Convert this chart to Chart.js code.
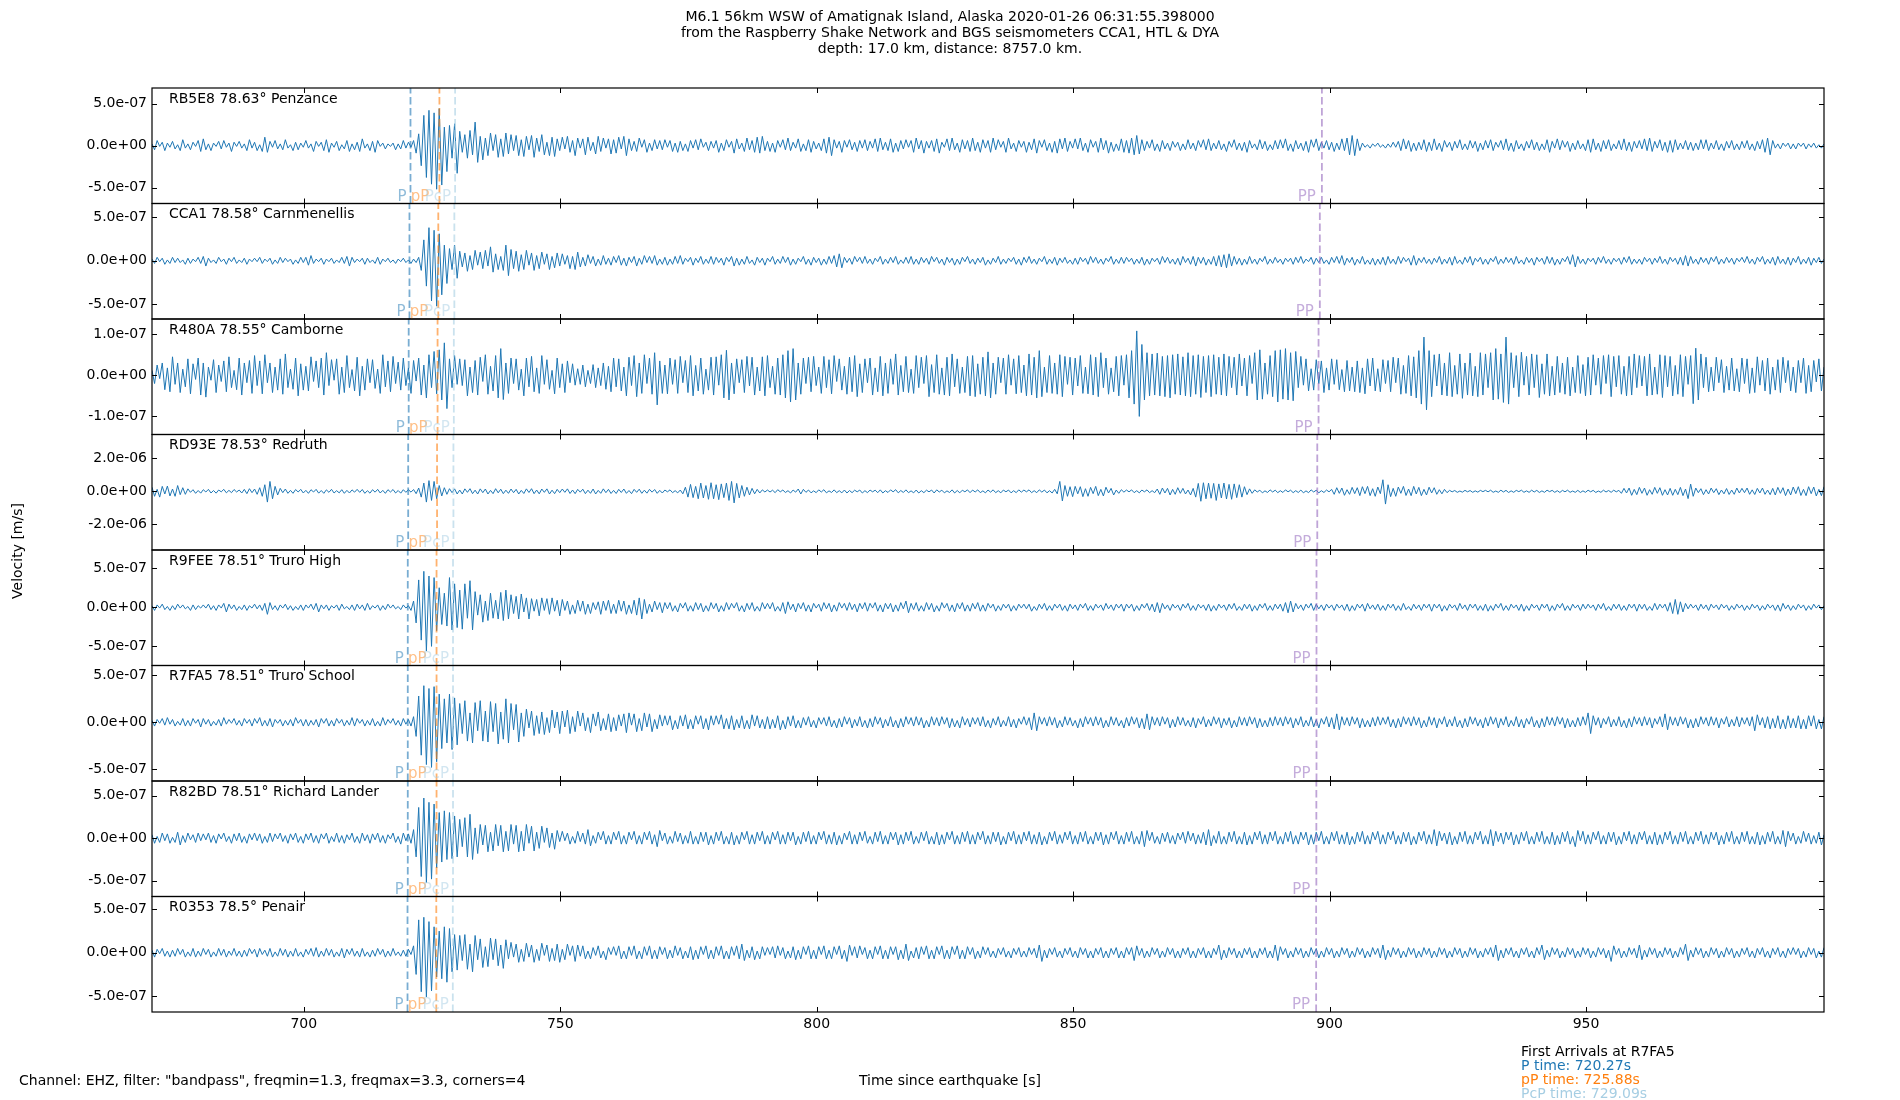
<!DOCTYPE html>
<html>
<head>
<meta charset="utf-8">
<script src="https://cdn.jsdelivr.net/npm/chart.js@4.4.1/dist/chart.umd.min.js"></script>
<style>
  html, body { margin: 0; padding: 0; background: #fff; }
  #wrap { position: relative; width: 1900px; height: 1100px; }
</style>
</head>
<body>
<div id="wrap"><canvas id="seis"></canvas></div>
<script>
const stations = [
  'RB5E8 78.63° Penzance',
  'CCA1 78.58° Carnmenellis',
  'R480A 78.55° Camborne',
  'RD93E 78.53° Redruth',
  'R9FEE 78.51° Truro High',
  'R7FA5 78.51° Truro School',
  'R82BD 78.51° Richard Lander',
  'R0353 78.5° Penair',
]

// samples start at t0 and are dt seconds apart
const t0 = 670.4
const dt = 0.5
const xMin = 670.4
const xMax = 996.4
const xTicks = [700, 750, 800, 850, 900, 950]

const yMax = [6.86e-7, 6.57e-7, 1.37e-7, 3.44e-6, 7.33e-7, 6.05e-7, 6.7e-7, 6.5e-7]
const yMin = [-6.9e-7, -6.67e-7, -1.44e-7, -3.55e-6, -7.45e-7, -6.25e-7, -6.84e-7, -6.84e-7]
const yStep = [5e-7, 5e-7, 1e-7, 2e-6, 5e-7, 5e-7, 5e-7, 5e-7]
// trace values below are written in these units (m/s)
const units = [1e-8, 1e-8, 1e-9, 1e-8, 1e-8, 1e-8, 1e-8, 1e-8]

const pTimes = [720.8, 720.6, 720.45, 720.35, 720.27, 720.27, 720.27, 720.22]
const pPTimes = [726.44, 726.22, 726.08, 725.98, 725.88, 725.88, 725.88, 725.83]
const pcpTimes = [729.5, 729.35, 729.25, 729.17, 729.09, 729.09, 729.09, 729.05]
const ppTimes = [898.5, 898.1, 897.85, 897.6, 897.45, 897.45, 897.42, 897.38]

const traceRB5E8 = [
  2,-5,6,-1,4,-6,3,-2,5,-4,1,-6,7,-3,2,-5,4,-1,6,-7,
  8,-5,2,-6,3,-1,5,-4,6,-2,3,-7,4,-1,5,-3,2,-6,7,-3,
  4,-6,1,-7,10,-8,5,-2,6,-4,2,-5,7,-3,1,-6,4,-5,3,-2,
  6,-3,2,-7,5,-1,4,-6,7,-8,3,-2,5,-6,1,-4,6,-7,2,-5,
  4,-7,8,-3,2,-6,5,-8,6,-1,3,-4,2,-1,3,-5,2,-4,6,-3,
  4,-2,6,-9,14,-24,36,-38,42,-46,39,-52,44,-47,22,-31,24,-15,26,-33,
  17,-8,13,-15,18,-11,28,-20,11,-17,9,-12,15,-6,13,-14,8,-13,15,-10,
  13,-6,12,-12,7,-13,11,-5,12,-14,9,-7,13,-11,4,-12,10,-13,8,-6,
  10,-4,11,-8,6,-12,9,-3,8,-11,10,-6,4,-10,11,-7,9,-3,8,-10,
  7,-9,10,-4,11,-12,8,-6,5,-7,9,-2,7,-8,3,-6,7,-4,6,-5,
  7,-2,6,-7,3,-8,5,-6,2,-7,6,-3,7,-5,8,-2,4,-6,5,-3,
  6,-8,3,-6,7,-2,5,-9,8,-4,3,-7,9,-5,6,-8,10,-9,11,-6,
  5,-7,3,-8,6,-2,7,-5,9,-6,4,-3,8,-7,2,-6,7,-8,5,-4,
  3,-6,8,-9,10,-12,7,-3,5,-8,6,-2,7,-5,4,-7,6,-3,7,-6,
  5,-3,8,-7,9,-5,4,-6,8,-8,3,-7,6,-4,7,-2,6,-8,9,-4,
  6,-9,5,-3,6,-7,8,-9,4,-2,8,-6,9,-5,3,-8,7,-4,6,-7,
  9,-6,4,-8,7,-3,6,-8,9,-5,7,-2,5,-8,9,-4,3,-7,6,-2,
  5,-8,4,-5,8,-9,6,-2,7,-6,3,-8,5,-9,8,-4,9,-7,5,-3,
  8,-4,9,-6,3,-8,7,-2,5,-8,9,-5,6,-9,4,-7,2,-6,8,-8,
  6,-9,9,-11,12,-10,7,-6,5,-3,7,-6,2,-7,6,-4,3,-6,5,-2,
  4,-6,2,-5,7,-4,3,-6,6,-2,7,-5,8,-6,3,-4,6,-5,2,-7,
  5,-2,7,-5,3,-6,4,-8,6,-3,2,-5,7,-4,5,-6,1,-5,6,-4,
  7,-3,8,-6,2,-7,6,-4,3,-6,5,-8,7,-2,8,-6,4,-3,6,-5,
  4,-7,3,-5,8,-6,9,-11,12,-12,8,-6,3,-2,1,-3,2,-1,3,-2,
  1,-3,2,-2,4,-2,5,-6,8,-4,6,-7,3,-6,4,-5,7,-7,4,-6,
  8,-5,3,-7,6,-2,4,-6,5,-3,7,-5,2,-5,6,-3,5,-7,3,-5,
  6,-3,7,-6,4,-2,6,-5,8,-6,3,-7,6,-4,2,-6,5,-3,7,-5,
  4,-6,2,-5,7,-8,5,-3,8,-5,6,-2,5,-7,3,-5,6,-4,2,-6,
  7,-8,8,-5,3,-7,6,-4,7,-6,2,-4,6,-5,8,-6,4,-7,5,-3,
  6,-4,8,-6,9,-7,5,-3,7,-6,4,-8,6,-8,7,-5,3,-4,6,-5,
  4,-6,3,-5,7,-4,7,-6,3,-4,6,-5,2,-6,5,-3,6,-5,2,-5,
  5,-3,6,-5,2,-6,5,-4,7,-8,9,-11,6,-3,2,-4,3,-1,3,-4,
  2,-4,3,-1,3,-4,2,-2,3,-3,1,-3,2,
]

const traceCCA1 = [
  2,-3,4,-1,3,-4,1,-3,4,-2,3,-2,1,-4,3,-3,2,-1,4,-3,
  5,-6,3,-2,1,-3,4,-1,2,-4,3,-1,4,-3,1,-2,3,-4,2,-1,
  3,-1,4,-3,2,-1,3,-4,1,-3,4,-2,3,-1,2,-4,1,-3,4,-2,
  4,-5,6,-3,2,-1,3,-4,2,-1,3,-3,1,-2,4,-3,5,-6,4,-2,
  2,-1,3,-4,3,-2,1,-3,4,-4,2,-1,3,-2,1,-3,2,-1,3,-2,
  1,-3,2,-2,4,-11,24,-29,38,-46,35,-52,31,-39,18,-26,14,-10,18,-20,
  11,-7,9,-12,6,-10,12,-5,10,-9,12,-6,16,-13,8,-10,5,-11,18,-17,
  13,-9,11,-12,7,-10,12,-5,9,-11,6,-9,10,-4,8,-10,5,-8,9,-6,
  8,-4,6,-9,5,-10,10,-7,4,-6,7,-3,5,-6,2,-5,6,-4,3,-5,
  5,-2,6,-5,3,-6,4,-2,5,-6,3,-4,6,-2,5,-3,6,-5,2,-4,
  4,-5,2,-4,5,-3,6,-4,3,-1,4,-5,3,-2,5,-4,2,-3,5,-4,
  4,-2,3,-5,4,-1,5,-6,3,-5,2,-4,5,-3,1,-5,4,-2,3,-5,
  3,-1,5,-4,2,-3,5,-2,4,-5,2,-4,3,-1,5,-4,2,-5,4,-2,
  3,-5,2,-4,5,-3,6,-7,8,-8,4,-2,3,-4,5,-1,4,-3,5,-3,
  2,-4,3,-1,5,-4,2,-3,4,-2,5,-4,1,-3,4,-3,5,-4,2,-4,
  4,-2,3,-4,5,-1,4,-3,2,-5,4,-2,3,-5,2,-4,4,-1,5,-3,
  2,-4,3,-2,4,-5,1,-4,3,-2,5,-4,2,-3,3,-1,4,-4,2,-5,
  4,-2,5,-3,2,-4,3,-1,5,-4,2,-3,4,-5,3,-2,4,-3,1,-4,
  3,-4,4,-1,3,-4,5,-2,4,-3,2,-4,3,-1,5,-4,2,-3,4,-3,
  4,-1,3,-4,2,-3,4,-5,2,-4,3,-1,3,-4,5,-2,4,-3,2,-4,
  3,-5,5,-2,3,-4,5,-6,4,-3,4,-5,2,-4,5,-6,6,-7,7,-8,
  8,-6,5,-4,3,-5,2,-4,5,-3,2,-4,3,-1,5,-4,2,-3,4,-2,
  2,-4,3,-1,3,-4,4,-2,5,-3,2,-1,4,-4,3,-2,4,-3,1,-4,
  4,-2,5,-3,6,-5,3,-2,4,-5,2,-3,5,-4,1,-4,3,-5,2,-4,
  4,-5,5,-3,2,-4,5,-3,4,-1,3,-5,6,-5,3,-2,4,-3,2,-4,
  3,-2,5,-4,2,-3,4,-5,5,-3,1,-4,4,-2,5,-5,3,-1,4,-4,
  2,-4,3,-1,5,-4,2,-3,4,-2,3,-4,5,-3,1,-4,4,-2,3,-5,
  4,-1,3,-4,5,-3,4,-5,2,-4,3,-1,5,-4,7,-7,5,-3,2,-4,
  3,-1,3,-4,4,-2,5,-3,2,-4,3,-1,3,-4,4,-2,5,-4,2,-3,
  2,-4,4,-1,3,-4,3,-2,5,-3,2,-4,4,-1,3,-4,4,-5,6,-6,
  5,-3,2,-4,4,-2,3,-4,4,-1,5,-4,2,-3,4,-2,3,-4,3,-1,
  4,-2,5,-3,2,-4,4,-1,5,-4,2,-3,4,-5,5,-3,2,-4,4,-5,
  3,-2,5,-4,2,-3,4,-5,3,-2,4,-3,2,
]

const traceR480A = [
  12,-20,25,-8,30,-35,18,-40,45,-22,30,-42,15,-28,40,-45,28,-10,42,-48,
  30,-53,20,-12,38,-42,25,-15,35,-40,45,-30,12,-35,42,-48,30,-18,36,-44,
  48,-25,35,-45,50,-18,30,-42,20,-36,40,-46,52,-30,15,-34,42,-50,28,-36,
  22,-38,45,-15,35,-30,42,-48,55,-25,38,-12,40,-46,20,-42,48,-30,14,-38,
  44,-50,22,-36,40,-18,38,-32,15,-44,50,-28,35,-40,46,-20,32,-36,42,-25,
  18,-44,36,-14,42,-48,25,-55,50,-30,58,-45,62,-60,79,-81,40,-30,48,-22,
  40,-25,38,-50,20,-42,36,-48,44,-15,50,-46,22,-38,48,-55,65,-59,30,-44,
  42,-20,40,-36,15,-50,42,-28,46,-40,18,-44,48,-22,38,-34,12,-45,42,-30,
  28,-42,35,-18,28,-24,16,-22,25,-28,12,-20,26,-30,18,-25,30,-34,22,-40,
  42,-28,40,-38,20,-50,44,-25,48,-52,30,-44,50,-20,42,-46,55,-72,35,-44,
  25,-45,42,-22,38,-44,46,-18,36,-42,48,-50,24,-38,42,-46,15,-36,44,-48,
  45,-24,50,-55,61,-60,30,-45,40,-18,38,-42,46,-26,44,-48,20,-38,45,-50,
  48,-30,22,-46,42,-48,50,-55,60,-65,65,-60,30,-46,42,-20,44,-40,46,-25,
  20,-44,46,-30,38,-45,48,-15,40,-36,22,-46,44,-40,48,-52,28,-42,40,-18,
  42,-48,18,-40,46,-50,30,-44,40,-22,52,-48,24,-40,46,-42,15,-44,48,-30,
  44,-20,48,-52,26,-42,50,-46,18,-48,44,-50,52,-28,40,-44,20,-42,46,-50,
  48,-52,28,-46,44,-50,57,-55,30,-46,44,-18,42,-46,50,-24,40,-45,48,-42,
  25,-50,52,-48,44,-55,60,-52,20,-42,48,-44,30,-46,50,-52,46,-22,44,-48,
  42,-26,48,-44,20,-45,50,-48,44,-52,55,-30,42,-46,18,-40,46,-50,48,-24,
  50,-55,60,-70,108,-100,75,-60,55,-50,52,-48,54,-50,46,-52,48,-55,50,-46,
  52,-48,45,-50,55,-52,48,-46,50,-54,46,-42,48,-52,50,-46,44,-48,52,-50,
  46,-30,44,-48,52,-26,42,-50,48,-20,55,-60,62,-58,30,-46,48,-52,60,-65,
  62,-58,65,-60,55,-62,58,-30,46,-24,40,-38,16,-36,38,-20,35,-42,18,-36,
  40,-22,38,-35,14,-40,36,-38,20,-40,35,-42,18,-45,40,-26,42,-38,16,-40,
  38,-20,36,-40,44,-18,42,-46,24,-44,48,-50,45,-55,60,-70,93,-84,60,-52,
  50,-26,52,-48,30,-50,55,-52,24,-46,52,-56,30,-48,54,-50,22,-52,55,-48,
  52,-30,55,-60,65,-58,52,-66,93,-70,55,-30,48,-52,56,-24,46,-48,52,-30,
  50,-54,28,-46,52,-50,22,-48,46,-42,30,-46,44,-50,20,-42,48,-44,26,-50,
  44,-48,50,-24,42,-46,48,-20,50,-52,46,-28,48,-46,22,-50,46,-48,52,-30,
  48,-26,46,-50,52,-48,20,-46,50,-54,48,-28,46,-50,24,-46,50,-52,46,-22,
  48,-69,66,-60,52,-30,44,-40,20,-38,44,-18,38,-42,22,-36,42,-38,16,-40,
  42,-20,40,-44,18,-42,45,-24,36,-38,42,-46,20,-36,38,-42,44,-18,36,-38,
  20,-42,36,-18,42,-44,24,-40,36,-16,40,-38,20,
]

const traceRD93E = [
  25,-30,12,-35,30,-16,32,-28,14,-30,35,-20,22,-18,15,-6,10,-12,5,-11,
  10,-4,12,-10,5,-11,8,-3,12,-9,6,-8,11,-4,8,-10,12,-14,16,-8,
  14,-18,22,-30,40,-65,60,-45,30,-22,18,-8,14,-12,6,-12,11,-4,12,-10,
  6,-12,10,-4,12,-11,5,-12,9,-6,12,-10,4,-9,10,-12,6,-10,9,-5,
  12,-6,11,-12,4,-11,10,-5,12,-10,6,-12,10,-4,11,-10,5,-11,10,-6,
  10,-5,11,-14,20,-35,50,-65,65,-55,60,-45,35,-28,22,-18,16,-8,15,-16,
  8,-16,15,-6,16,-14,7,-16,15,-8,14,-16,6,-14,16,-9,13,-14,7,-12,
  14,-8,12,-16,6,-13,15,-7,16,-14,8,-15,14,-6,15,-16,7,-14,12,-8,
  14,-6,15,-13,8,-14,12,-5,13,-14,7,-12,14,-16,6,-12,15,-8,12,-13,
  6,-13,12,-7,14,-12,5,-14,12,-6,13,-12,7,-11,12,-5,11,-12,6,-10,
  8,-3,9,-8,4,-9,8,-15,25,-35,42,-38,30,-45,50,-40,35,-48,52,-45,
  40,-50,45,-38,50,-55,60,-70,48,-40,35,-30,25,-22,18,-15,12,-10,9,-4,
  8,-4,7,-8,10,-3,8,-7,4,-10,8,-5,14,-16,12,-6,8,-9,3,-8,
  9,-4,10,-9,3,-7,9,-8,4,-9,8,-10,5,-8,7,-3,8,-10,4,-8,
  8,-3,7,-8,9,-10,4,-7,9,-3,10,-9,5,-7,9,-8,3,-9,8,-10,
  4,-8,7,-3,8,-10,9,-4,7,-9,3,-7,9,-10,5,-9,7,-3,9,-8,
  8,-4,9,-8,3,-9,8,-5,9,-8,4,-9,8,-3,8,-9,4,-8,9,-5,
  8,-3,9,-8,4,-8,9,-5,8,-9,4,-10,12,-15,60,-58,35,-30,28,-32,
  30,-15,28,-32,16,-30,24,-14,30,-26,12,-28,25,-10,18,-22,8,-12,10,-5,
  8,-3,9,-8,4,-9,8,-3,9,-8,4,-8,14,-18,20,-10,18,-22,12,-18,
  22,-12,18,-16,8,-22,18,-35,48,-60,52,-45,50,-42,48,-55,45,-40,50,-46,
  42,-48,45,-38,40,-35,28,-20,15,-12,9,-4,7,-9,3,-7,9,-4,7,-8,
  4,-7,9,-3,7,-8,4,-7,8,-9,3,-8,9,-4,7,-9,4,-7,8,-3,
  12,-18,22,-12,20,-24,10,-18,24,-14,22,-26,28,-14,30,-26,16,-30,26,-14,
  70,-77,40,-32,18,-30,26,-12,30,-25,14,-26,30,-16,24,-26,12,-22,25,-10,
  22,-18,10,-15,12,-8,6,-3,5,-6,2,-5,6,-3,5,-6,3,-5,6,-2,
  6,-3,7,-6,2,-6,7,-4,6,-7,3,-6,6,-2,7,-6,3,-6,7,-4,
  6,-7,3,-6,7,-2,6,-6,4,-7,6,-3,7,-6,2,-6,6,-7,3,-6,
  7,-3,6,-7,2,-6,7,-4,5,-6,7,-3,6,-12,18,-10,20,-24,12,-20,
  24,-12,20,-24,10,-18,24,-12,22,-24,10,-22,18,-24,12,-20,24,-26,14,-44,
  44,-30,20,-8,16,-20,10,-16,20,-8,16,-20,8,-15,17,-19,8,-18,20,-10,
  18,-8,20,-18,9,-19,18,-10,20,-18,8,-20,18,-22,24,-12,22,-26,14,-22,
  26,-14,28,-25,12,-26,28,-14,26,-28,12,-26,28,
]

const traceR9FEE = [
  2,-4,3,-1,4,-3,1,-4,2,-3,4,-1,3,-2,1,-4,3,-3,2,-1,
  3,-1,4,-3,2,-4,3,-1,5,-6,4,-2,3,-4,1,-3,3,-4,2,-1,
  4,-2,3,-4,5,-9,6,-3,2,-4,3,-1,4,-3,2,-4,1,-3,3,-4,
  3,-1,4,-3,5,-6,3,-2,3,-4,2,-1,3,-4,4,-2,1,-3,3,-4,
  4,-2,3,-4,5,-3,2,-1,3,-4,2,-3,4,-1,3,-2,1,-3,3,-1,
  2,-4,8,-20,35,-42,46,-56,40,-50,38,-30,25,-22,18,-24,38,-29,30,-26,
  22,-28,30,-14,34,-29,20,-10,16,-19,8,-17,18,-14,9,-15,19,-17,22,-15,
  16,-8,14,-15,17,-6,12,-15,11,-5,10,-11,12,-4,11,-9,12,-5,9,-11,
  10,-4,8,-9,3,-8,9,-5,8,-9,4,-8,6,-3,7,-9,8,-4,9,-8,
  4,-8,9,-5,8,-9,3,-8,9,-10,12,-15,10,-8,4,-6,8,-3,6,-7,
  6,-2,6,-5,2,-6,5,-1,6,-5,2,-5,6,-3,5,-6,2,-5,6,-2,
  5,-6,2,-5,6,-3,5,-1,6,-5,2,-6,5,-3,6,-5,1,-5,6,-2,
  5,-2,6,-5,1,-5,6,-8,7,-3,4,-6,5,-2,6,-5,3,-6,5,-1,
  4,-5,6,-2,5,-6,3,-5,6,-1,5,-4,6,-3,4,-6,5,-2,6,-5,
  5,-1,6,-5,3,-6,5,-2,5,-6,3,-5,6,-2,8,-7,5,-3,6,-5,
  2,-5,6,-3,5,-6,2,-5,6,-1,5,-5,3,-6,5,-2,6,-5,3,-5,
  5,-2,6,-5,3,-5,5,-1,4,-5,2,-4,4,-1,4,-5,2,-4,4,-1,
  4,-2,4,-5,1,-4,4,-2,5,-4,2,-4,4,-1,4,-4,2,-5,4,-2,
  3,-4,4,-1,5,-4,2,-4,4,-1,3,-4,5,-2,3,-4,4,-1,4,-5,
  4,-1,4,-5,2,-4,4,-1,5,-4,4,-6,6,-7,5,-2,3,-4,4,-1,
  3,-4,4,-1,5,-4,2,-4,4,-1,3,-4,4,-5,2,-4,4,-1,3,-4,
  4,-2,5,-4,1,-4,4,-2,4,-5,2,-4,4,-1,5,-4,2,-4,4,-2,
  4,-5,6,-7,8,-6,5,-2,3,-4,4,-1,5,-4,4,-2,3,-4,4,-1,
  3,-4,4,-1,3,-4,4,-5,2,-4,4,-1,4,-5,5,-2,3,-3,4,-4,
  2,-4,4,-1,4,-4,2,-4,5,-3,1,-4,4,-2,3,-4,4,-1,4,-5,
  4,-1,4,-5,2,-4,4,-1,3,-4,5,-2,3,-4,4,-1,4,-4,2,-4,
  4,-5,2,-4,4,-1,5,-4,2,-4,4,-1,3,-4,4,-5,2,-4,4,-1,
  3,-4,4,-1,4,-5,2,-4,4,-1,5,-4,2,-4,4,-1,3,-4,4,-2,
  4,-1,3,-4,4,-2,5,-4,1,-4,4,-2,4,-4,2,-4,4,-1,4,-5,
  4,-2,4,-4,1,-4,5,-3,4,-1,4,-5,6,-8,10,-9,7,-6,5,-2,
  4,-1,3,-4,4,-2,3,-4,4,-1,3,-3,4,-1,3,-4,2,-3,4,-1,
  3,-4,2,-3,4,-1,3,-4,2,-3,4,-1,3,-4,3,-5,5,-2,3,-4,
  2,-3,4,-1,3,-4,2,-3,4,-1,3,-3,2,
]

const traceR7FA5 = [
  2,-4,3,-1,4,-3,5,-2,3,-4,1,-3,4,-4,2,-4,4,-1,3,-5,
  4,-2,3,-4,1,-3,3,-4,5,-2,3,-1,4,-3,2,-4,4,-1,3,-4,
  4,-1,5,-4,2,-4,4,-5,3,-1,3,-4,2,-3,3,-4,5,-1,3,-4,
  3,-4,2,-3,3,-5,4,-1,4,-4,2,-4,4,-1,3,-4,2,-3,5,-4,
  4,-1,3,-4,2,-3,4,-4,1,-4,5,-3,3,-1,4,-3,2,-4,4,-2,
  3,-4,6,-15,28,-35,39,-45,36,-48,38,-42,30,-28,25,-22,30,-29,26,-24,
  20,-12,23,-20,10,-22,21,-9,23,-20,12,-21,22,-10,20,-23,11,-18,25,-22,
  20,-8,19,-21,10,-15,14,-6,12,-14,7,-12,11,-13,5,-11,13,-6,11,-12,
  12,-5,13,-12,6,-10,12,-4,10,-9,5,-11,9,-4,11,-9,4,-8,9,-10,
  5,-9,8,-4,9,-11,10,-3,9,-10,4,-9,10,-5,9,-10,3,-7,8,-4,
  7,-3,7,-8,2,-7,7,-4,8,-7,3,-7,7,-2,7,-7,4,-8,7,-3,
  7,-2,8,-7,4,-7,7,-8,3,-6,7,-7,2,-7,8,-4,7,-6,3,-7,
  6,-7,3,-6,7,-8,2,-7,6,-4,7,-6,2,-6,5,-3,6,-5,2,-6,
  5,-2,5,-4,6,-5,2,-6,4,-5,6,-2,5,-6,3,-4,6,-5,2,-6,
  4,-5,6,-2,5,-6,3,-4,6,-5,2,-6,4,-5,6,-2,5,-4,6,-3,
  5,-6,2,-5,6,-3,5,-4,6,-2,5,-6,4,-5,2,-6,6,-3,4,-5,
  5,-2,5,-4,6,-5,2,-6,4,-3,6,-5,2,-4,6,-5,3,-6,4,-2,
  6,-3,5,-8,10,-9,6,-2,5,-4,6,-3,5,-6,2,-5,6,-3,5,-4,
  2,-6,4,-5,6,-2,5,-4,6,-3,5,-6,2,-5,6,-3,5,-4,2,-6,
  5,-4,6,-2,5,-6,4,-7,9,-8,6,-3,5,-4,6,-2,5,-6,3,-5,
  6,-3,5,-4,2,-5,5,-6,4,-2,6,-5,3,-4,6,-2,5,-6,4,-3,
  5,-6,2,-5,6,-3,5,-4,6,-2,5,-6,4,-5,2,-5,5,-4,6,-3,
  5,-4,6,-2,5,-6,4,-3,6,-5,2,-4,6,-5,3,-6,4,-2,6,-5,
  5,-7,9,-8,6,-3,5,-4,6,-2,5,-6,4,-5,2,-5,5,-4,6,-3,
  5,-2,6,-5,3,-6,4,-5,6,-2,5,-4,6,-3,5,-6,2,-5,6,-3,
  5,-6,4,-2,6,-5,3,-4,6,-5,2,-6,4,-5,6,-2,5,-4,3,-6,
  5,-4,6,-2,5,-6,4,-3,6,-5,2,-4,6,-5,3,-6,4,-2,6,-5,
  2,-6,4,-5,6,-3,5,-4,6,-2,5,-6,4,-5,2,-5,5,-4,6,-3,
  10,-12,7,-3,5,-6,4,-2,6,-5,3,-4,6,-5,2,-6,4,-5,6,-2,
  5,-4,6,-3,5,-6,4,-2,6,-5,9,-8,6,-3,5,-4,6,-2,5,-6,
  3,-6,4,-5,6,-2,5,-4,6,-3,5,-6,4,-2,6,-5,3,-4,6,-5,
  5,-2,5,-4,6,-9,8,-3,5,-6,6,-7,4,-6,7,-7,3,-7,7,-6,
  4,-6,7,-7,3,-7,7,-4,7,-7,3,-7,6,
]

const traceR82BD = [
  4,-6,2,-5,6,-3,5,-6,1,-5,7,-8,3,-5,6,-2,4,-5,6,-3,
  5,-2,6,-5,3,-6,5,-1,6,-4,2,-6,5,-3,6,-5,2,-6,5,-2,
  6,-3,5,-6,2,-5,6,-4,5,-1,6,-4,3,-6,5,-2,6,-5,2,-6,
  5,-2,6,-5,3,-6,5,-1,6,-6,2,-4,6,-5,3,-6,4,-2,6,-5,
  2,-6,6,-3,4,-6,5,-2,6,-5,3,-6,4,-1,6,-5,2,-7,6,-3,
  5,-6,10,-22,36,-45,47,-52,42,-48,40,-35,30,-28,32,-25,30,-24,26,-22,
  22,-10,24,-22,28,-25,12,-18,16,-8,15,-16,7,-15,16,-9,15,-16,8,-15,
  16,-7,15,-16,8,-15,16,-6,14,-15,7,-12,14,-5,12,-11,6,-13,9,-4,
  8,-3,6,-7,2,-6,8,-4,6,-7,10,-9,3,-6,7,-2,8,-7,3,-7,
  7,-2,8,-7,3,-7,7,-2,8,-7,3,-7,7,-2,8,-7,4,-10,9,-3,
  6,-7,2,-6,8,-4,6,-7,3,-6,8,-7,2,-7,7,-4,7,-8,3,-7,
  7,-3,8,-7,2,-7,7,-8,3,-7,7,-2,8,-7,4,-7,7,-3,8,-7,
  3,-7,7,-2,8,-7,4,-7,7,-3,7,-8,2,-7,7,-4,8,-7,3,-7,
  7,-2,8,-7,4,-7,7,-8,3,-7,6,-2,8,-7,4,-7,7,-3,8,-6,
  2,-7,7,-4,8,-7,3,-7,7,-2,7,-8,4,-7,7,-3,8,-7,2,-6,
  7,-3,8,-7,2,-7,7,-8,4,-7,7,-2,8,-7,3,-7,7,-4,8,-7,
  4,-7,7,-2,8,-7,3,-7,7,-4,7,-8,2,-7,7,-3,8,-7,4,-7,
  7,-3,8,-7,4,-7,7,-8,2,-7,7,-3,8,-7,4,-6,7,-2,8,-7,
  3,-7,7,-4,8,-7,2,-7,7,-3,7,-8,4,-7,7,-2,8,-7,3,-7,
  7,-4,8,-7,2,-7,8,-10,9,-3,7,-6,2,-7,6,-4,7,-6,3,-7,
  6,-2,7,-6,8,-3,6,-7,4,-6,7,-8,10,-9,3,-6,8,-7,2,-7,
  7,-4,8,-7,2,-7,7,-8,3,-7,7,-2,8,-7,4,-7,7,-3,8,-7,
  2,-7,7,-4,8,-7,3,-7,7,-2,7,-8,4,-7,7,-3,8,-7,2,-7,
  7,-3,8,-7,4,-7,7,-8,2,-7,7,-4,8,-7,3,-7,7,-2,8,-7,
  4,-7,7,-2,8,-7,3,-7,7,-4,7,-8,2,-7,7,-3,8,-7,4,-7,
  10,-9,8,-3,6,-7,7,-8,2,-7,7,-4,8,-7,3,-7,7,-2,8,-7,
  3,-7,10,-9,8,-4,6,-7,7,-2,7,-8,4,-7,7,-3,8,-7,2,-7,
  7,-4,8,-7,2,-7,7,-8,3,-7,7,-4,8,-7,2,-10,9,-3,8,-7,
  4,-7,7,-2,8,-7,3,-7,7,-4,7,-8,2,-7,7,-3,8,-7,4,-7,
  7,-2,8,-7,3,-7,7,-8,4,-7,7,-2,8,-7,3,-7,7,-4,8,-7,
  2,-7,7,-3,8,-7,4,-7,7,-2,7,-8,3,-7,7,-4,8,-7,2,-7,
  7,-4,8,-7,2,-7,7,-8,3,-7,7,-4,8,-7,2,-7,9,-10,8,-3,
  6,-7,2,-6,8,-4,6,-7,3,-6,7,-8,4,
]

const traceR0353 = [
  3,-5,4,-1,5,-4,2,-5,3,-4,5,-2,4,-5,1,-4,5,-5,2,-4,
  5,-2,4,-5,1,-4,5,-3,4,-5,2,-3,5,-4,2,-5,3,-4,5,-1,
  4,-5,5,-2,3,-4,5,-5,1,-4,5,-3,4,-5,2,-4,5,-4,1,-5,
  4,-2,5,-4,6,-5,2,-4,5,-3,4,-5,1,-4,5,-6,4,-2,5,-4,
  2,-5,5,-4,1,-5,3,-4,5,-2,4,-5,2,-4,5,-3,1,-4,3,-4,
  4,-2,8,-25,38,-45,41,-51,36,-44,30,-28,25,-30,30,-34,28,-22,21,-20,
  20,-9,21,-19,10,-22,20,-8,16,-17,7,-16,17,-8,16,-15,9,-18,15,-7,
  12,-5,10,-11,4,-10,11,-5,9,-11,4,-9,11,-3,9,-10,5,-9,10,-11,
  4,-8,10,-3,8,-10,9,-4,8,-7,2,-7,6,-3,8,-6,2,-8,6,-2,
  7,-3,8,-7,2,-7,7,-3,8,-7,2,-7,7,-3,8,-7,3,-7,7,-2,
  6,-7,3,-6,8,-3,6,-7,2,-6,7,-8,3,-7,7,-2,8,-7,3,-7,
  7,-3,8,-7,2,-7,7,-3,8,-7,10,-9,3,-6,7,-8,2,-7,7,-3,
  6,-2,7,-6,8,-3,6,-7,2,-6,7,-8,3,-7,7,-2,8,-7,3,-7,
  7,-2,8,-7,3,-7,7,-2,8,-7,3,-10,9,-3,7,-6,8,-2,6,-7,
  3,-7,7,-2,8,-7,3,-7,7,-2,7,-8,3,-7,10,-9,2,-6,6,-7,
  7,-2,8,-7,3,-7,7,-2,8,-7,3,-7,7,-2,8,-7,3,-7,7,-2,
  6,-7,2,-6,7,-2,6,-5,2,-6,5,-2,6,-5,2,-6,5,-2,6,-5,
  2,-5,6,-2,5,-6,9,-10,3,-6,5,-2,6,-5,2,-6,5,-2,6,-5,
  2,-6,6,-2,5,-6,2,-6,5,-2,6,-6,2,-6,5,-2,6,-6,2,-6,
  6,-2,6,-9,8,-3,5,-6,2,-5,6,-2,5,-6,2,-5,6,-2,5,-6,
  2,-6,5,-2,6,-6,2,-6,5,-2,6,-6,2,-6,5,-2,9,-8,3,-6,
  6,-2,5,-6,2,-6,5,-2,6,-6,2,-6,5,-2,6,-6,2,-6,9,-9,
  7,-2,5,-6,2,-5,6,-2,5,-6,2,-5,6,-2,5,-6,2,-5,6,-2,
  5,-6,2,-5,6,-2,5,-6,2,-5,6,-2,5,-6,2,-5,6,-2,5,-6,
  9,-8,3,-5,6,-2,5,-6,2,-5,6,-2,5,-6,2,-5,6,-2,5,-6,
  2,-5,6,-2,5,-6,2,-5,6,-2,5,-6,2,-5,6,-2,5,-6,2,-5,
  5,-2,6,-5,9,-9,3,-6,5,-2,6,-5,2,-6,5,-2,6,-5,2,-6,
  6,-2,9,-8,3,-5,6,-2,5,-6,2,-5,6,-2,5,-6,2,-5,6,-2,
  5,-6,2,-5,6,-2,5,-6,3,-10,8,-2,5,-6,2,-5,6,-2,5,-6,
  9,-8,3,-5,6,-2,5,-6,2,-5,6,-2,5,-6,2,-5,6,-2,10,-9,
  3,-5,6,-2,5,-6,2,-5,6,-2,5,-6,2,-5,6,-2,5,-6,2,-5,
  5,-2,6,-5,2,-6,5,-2,6,-5,2,-6,5,-2,6,-5,2,-6,5,-2,
  6,-2,5,-6,2,-5,6,-2,5,-6,2,-5,6,
]

const traces = [traceRB5E8, traceCCA1, traceR480A, traceRD93E, traceR9FEE, traceR7FA5, traceR82BD, traceR0353]

const phases = [
  { name: 'P', times: pTimes, line: 'rgba(31,119,180,0.6)', text: 'rgba(31,119,180,0.5)', gap: 4 },
  { name: 'pP', times: pPTimes, line: 'rgba(255,127,14,0.6)', text: 'rgba(255,127,14,0.5)', gap: 10 },
  { name: 'PcP', times: pcpTimes, line: 'rgba(166,206,227,0.6)', text: 'rgba(166,206,227,0.5)', gap: 4 },
  { name: 'PP', times: ppTimes, line: 'rgba(148,103,189,0.6)', text: 'rgba(148,103,189,0.55)', gap: 6 },
]

const arrivals = [
  { text: 'First Arrivals at R7FA5', color: '#000000' },
  { text: 'P time: 720.27s', color: '#1f77b4' },
  { text: 'pP time: 725.88s', color: '#ff7f0e' },
  { text: 'PcP time: 729.09s', color: '#a6cee3' },
]

const titleLines = [
  'M6.1 56km WSW of Amatignak Island, Alaska 2020-01-26 06:31:55.398000',
  'from the Raspberry Shake Network and BGS seismometers CCA1, HTL & DYA',
  'depth: 17.0 km, distance: 8757.0 km.',
]

const FONT = '"DejaVu Sans", Verdana, sans-serif'

function sci(v) {
  if (Math.abs(v) < 1e-30) return '0.0e+00'
  const parts = v.toExponential(1).split('e')
  const n = parseInt(parts[1], 10)
  return parts[0] + 'e' + (n < 0 ? '-' : '+') + String(Math.abs(n)).padStart(2, '0')
}

const scales = {
  x: {
    type: 'linear',
    min: xMin,
    max: xMax,
    bounds: 'data',
    grid: { display: false, drawTicks: false },
    border: { display: false },
    ticks: { color: '#000', font: { family: FONT, size: 14 }, padding: 4, maxRotation: 0, autoSkip: false, callback: (v) => String(v) },
    afterBuildTicks: (s) => { s.ticks = xTicks.map((v) => ({ value: v })) },
    afterFit: (s) => { s.height = 88 },
  },
}

stations.forEach((name, i) => {
  scales['y' + i] = {
    type: 'linear',
    position: 'left',
    stack: 'traces',
    stackWeight: 1,
    weight: stations.length - i,
    min: yMin[i],
    max: yMax[i],
    bounds: 'data',
    grid: { display: false, drawTicks: false },
    border: { display: false },
    ticks: { color: '#000', font: { family: FONT, size: 14 }, padding: 5, callback: (v) => sci(v) },
    afterBuildTicks: (s) => { s.ticks = [-yStep[i], 0, yStep[i]].map((v) => ({ value: v })) },
    afterFit: (s) => { s.width = 152 },
  }
})

const datasets = []
traces.forEach((vals, i) => {
  datasets.push({
    data: vals.map((v, k) => ({ x: t0 + k * dt, y: v * units[i] })),
    yAxisID: 'y' + i,
    borderColor: '#1f77b4',
    borderWidth: 1,
    pointRadius: 0,
    tension: 0,
    order: 2,
  })
})
phases.forEach((ph) => {
  ph.times.forEach((t, i) => {
    datasets.push({
      data: [{ x: t, y: yMin[i] }, { x: t, y: yMax[i] }],
      yAxisID: 'y' + i,
      borderColor: ph.line,
      borderWidth: 1.8,
      borderDash: [7.5, 3.5],
      pointRadius: 0,
      order: 1,
    })
  })
})

const panelPlugin = {
  id: 'panels',
  afterDatasetsDraw(chart) {
    const { ctx, chartArea } = chart
    const xs = chart.scales.x
    const left = chartArea.left
    const right = chartArea.right
    ctx.save()
    stations.forEach((name, i) => {
      const ys = chart.scales['y' + i]
      const top = ys.top
      const bottom = ys.bottom

      // tick marks point inwards on all four sides
      ctx.strokeStyle = '#000'
      ctx.lineWidth = 1
      ctx.beginPath()
      xTicks.forEach((v) => {
        const px = Math.round(xs.getPixelForValue(v)) + 0.5
        ctx.moveTo(px, top)
        ctx.lineTo(px, top + 5)
        ctx.moveTo(px, bottom)
        ctx.lineTo(px, bottom - 5)
      })
      ;[-yStep[i], 0, yStep[i]].forEach((v) => {
        const py = Math.round(ys.getPixelForValue(v)) + 0.5
        ctx.moveTo(left, py)
        ctx.lineTo(left + 5, py)
        ctx.moveTo(right, py)
        ctx.lineTo(right - 5, py)
      })
      ctx.stroke()

      ctx.lineWidth = 1.2
      ctx.strokeRect(left, top, right - left, bottom - top)

      ctx.fillStyle = '#000'
      ctx.font = '14px ' + FONT
      ctx.textAlign = 'left'
      ctx.textBaseline = 'middle'
      ctx.fillText(name, left + 17, top + 11)

      ctx.font = '15px ' + FONT
      ctx.textAlign = 'right'
      ctx.textBaseline = 'alphabetic'
      phases.forEach((ph) => {
        ctx.fillStyle = ph.text
        ctx.fillText(ph.name, xs.getPixelForValue(ph.times[i]) - ph.gap, bottom - 3)
      })
    })
    ctx.restore()
  },
  afterDraw(chart) {
    const { ctx } = chart
    ctx.save()
    ctx.font = '14px ' + FONT
    ctx.fillStyle = '#000'
    ctx.textBaseline = 'middle'
    ctx.textAlign = 'center'
    titleLines.forEach((line, k) => ctx.fillText(line, 950, 17 + k * 16))
    ctx.fillText('Time since earthquake [s]', 950, 1081)

    ctx.textAlign = 'left'
    ctx.fillText('Channel: EHZ, filter: "bandpass", freqmin=1.3, freqmax=3.3, corners=4', 19, 1081)
    arrivals.forEach((a, k) => {
      ctx.fillStyle = a.color
      ctx.fillText(a.text, 1521, 1052 + k * 14)
    })

    ctx.fillStyle = '#000'
    ctx.translate(18, 551)
    ctx.rotate(-Math.PI / 2)
    ctx.textAlign = 'center'
    ctx.fillText('Velocity [m/s]', 0, 0)
    ctx.restore()
  },
}

new Chart(document.getElementById('seis'), {
  type: 'line',
  data: { datasets },
  options: {
    responsive: true,
    maintainAspectRatio: false,
    devicePixelRatio: 1,
    animation: false,
    events: [],
    parsing: false,
    normalized: true,
    layout: { padding: { top: 88, right: 76, left: 0, bottom: 0 } },
    scales,
    plugins: {
      legend: { display: false },
      tooltip: { enabled: false },
      title: { display: false },
    },
  },
  plugins: [panelPlugin],
})
</script>
</body>
</html>
